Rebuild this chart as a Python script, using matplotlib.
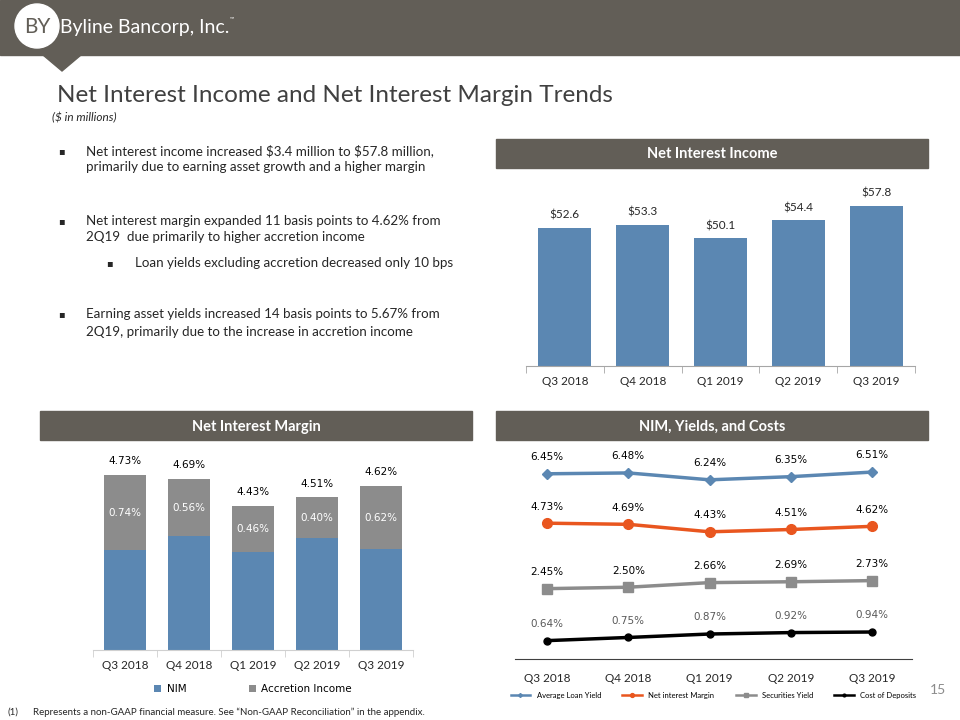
import matplotlib
matplotlib.use('Agg')

import matplotlib.pyplot as plt
import numpy as np
from matplotlib.patches import Rectangle, Circle, Polygon

# Chart data
quarters = ['Q3 2018', 'Q4 2018', 'Q1 2019', 'Q2 2019', 'Q3 2019']
nii = [52.6, 53.3, 50.1, 54.4, 57.8]
nim_total = [4.73, 4.69, 4.43, 4.51, 4.62]
accretion = [0.74, 0.56, 0.46, 0.40, 0.62]
loan_yield = [6.45, 6.48, 6.24, 6.35, 6.51]
sec_yield = [2.45, 2.50, 2.66, 2.69, 2.73]
cost_deposits = [0.64, 0.75, 0.87, 0.92, 0.94]

bullets = [
    ("Net interest income increased \\$3.4 million to \\$57.8 million,\nprimarily due to earning asset growth and a higher margin", 0),
    ("Net interest margin expanded 11 basis points to 4.62% from\n2Q19  due primarily to higher accretion income", 0),
    ("Loan yields excluding accretion decreased only 10 bps", 1),
    ("Earning asset yields increased 14 basis points to 5.67% from\n2Q19, primarily due to the increase in accretion income", 0),
]

BLUE = '#5b87b2'
GRAY = '#8c8c8c'
ORANGE = '#e9561f'
HEAD = '#625e57'
TXT = '#262626'
FONT = ['Lato', 'DejaVu Sans']

W, H = 960, 720
fig = plt.figure(figsize=(9.6, 7.2), dpi=100)


def px_axes(x0, y0, x1, y1):
    # axes placed by pixel box (top-left origin)
    return fig.add_axes([x0 / W, 1 - y1 / H, (x1 - x0) / W, (y1 - y0) / H])


# background / decorations layer
bg = fig.add_axes([0, 0, 1, 1])
bg.set_xlim(0, W)
bg.set_ylim(H, 0)
bg.axis('off')

bg.add_patch(Rectangle((0, 0), W, 55, color=HEAD, zorder=1))
bg.add_patch(Polygon([[43, 55], [81, 55], [62, 71]], closed=True, color=HEAD, zorder=1))
bg.add_patch(Circle((37, 26), 22, color='white', zorder=2))
bg.text(37, 27, 'BY', color=HEAD, fontsize=15, ha='center', va='center',
        family=FONT, zorder=3)
bg.text(60, 27, 'Byline Bancorp, Inc.', color='white', fontsize=14, ha='left',
        va='center', family=FONT, zorder=3)
bg.text(230, 19, '™', color='white', fontsize=4, ha='left', va='center', family=FONT)

bg.text(57, 96, 'Net Interest Income and Net Interest Margin Trends', color='#404040',
        fontsize=17.5, ha='left', va='center', family=FONT)
bg.text(52, 118, '($ in millions)', color=TXT, fontsize=8.5, style='italic',
        ha='left', va='center', family=FONT)

# bullet text
line_y = [[151, 167], [221, 237], [263], [314, 332]]
for (txt, lvl), ys in zip(bullets, line_y):
    bx, tx = (61, 86) if lvl == 0 else (109, 135)
    bg.text(bx, ys[0], '▪', fontsize=7, ha='center', va='center', color=TXT,
            family=['DejaVu Sans'])
    for ln, y in zip(txt.split('\n'), ys):
        bg.text(tx, y, ln, fontsize=9.6, ha='left', va='center', color=TXT, family=FONT)

# section headers
for (x0, y0, x1, y1), label in [((496, 139, 928, 168), 'Net Interest Income'),
                                ((40, 411, 472, 440), 'Net Interest Margin'),
                                ((496, 411, 928, 440), 'NIM, Yields, and Costs')]:
    bg.add_patch(Rectangle((x0, y0), x1 - x0, y1 - y0, color=HEAD, zorder=1))
    bg.text((x0 + x1) / 2, (y0 + y1) / 2 + 1, label, color='white', fontsize=10.5,
            fontweight='bold', ha='center', va='center', family=FONT, zorder=2)

bg.text(938, 690, '15', color=GRAY, fontsize=10, ha='center', va='center', family=FONT)
bg.text(8, 712, '(1)', color=TXT, fontsize=7, ha='left', va='center', family=FONT)
bg.text(33, 712, 'Represents a non-GAAP financial measure. See \u201cNon-GAAP Reconciliation\u201d in the appendix.',
        color=TXT, fontsize=7, ha='left', va='center', family=FONT)

x = np.arange(len(quarters))


def cat_axis(ax, spine_color, ticks=True):
    for s in ['top', 'right', 'left']:
        ax.spines[s].set_visible(False)
    ax.spines['bottom'].set_color(spine_color)
    ax.set_yticks([])
    ax.set_xticks(x)
    ax.set_xticklabels(quarters, fontsize=8.5, color=TXT, family=FONT)
    ax.tick_params(axis='x', which='major', length=0, pad=7)
    if ticks:
        ax.set_xticks(np.arange(-0.5, len(quarters)), minor=True)
        ax.tick_params(axis='x', which='minor', length=5, color=spine_color)
    ax.patch.set_alpha(0)


# Net Interest Income bars
ax1 = px_axes(526, 188, 915, 366)
ax1.bar(x, nii, width=0.68, color=BLUE)
ax1.set_xlim(-0.5, 4.5)
ax1.set_ylim(20, 62)
cat_axis(ax1, '#a6a6a6')
for xi, v in zip(x, nii):
    ax1.annotate(f'${v:.1f}', (xi, v), xytext=(0, 9), textcoords='offset points',
                 ha='center', va='center', fontsize=8.5, color=TXT, family=FONT)

# Net Interest Margin stacked bars
core = [t - a for t, a in zip(nim_total, accretion)]
ax2 = px_axes(93, 453, 413, 650)
ax2.bar(x, core, width=0.67, color=BLUE, label='NIM')
ax2.bar(x, accretion, bottom=core, width=0.67, color=GRAY, label='Accretion Income')
ax2.set_xlim(-0.5, 4.5)
ax2.set_ylim(3.0, 4.95)
cat_axis(ax2, '#d0d0d0')
for xi, t, a, c in zip(x, nim_total, accretion, core):
    ax2.annotate(f'{t:.2f}%', (xi, t), xytext=(0, 10), textcoords='offset points',
                 ha='center', va='center', fontsize=7.5, color='black')
    ax2.text(xi, c + a / 2, f'{a:.2f}%', ha='center', va='center', fontsize=7.5,
             color='white')
ax2.legend(loc='center', bbox_to_anchor=(0.5, -0.2), ncol=2, frameon=False,
           fontsize=7.5, handlelength=0.7, handleheight=0.7, columnspacing=6,
           handletextpad=0.5)

# NIM, Yields, and Costs lines
ax3 = px_axes(515, 458, 912, 659)
series = [
    ('Average Loan Yield', loan_yield, BLUE, 'D', 5, 'black'),
    ('Net interest Margin', nim_total, ORANGE, 'o', 7, 'black'),
    ('Securities Yield', sec_yield, GRAY, 's', 7, 'black'),
    ('Cost of Deposits', cost_deposits, 'black', 'o', 5, '#595959'),
]
for name, vals, col, mk, ms, lc in series:
    ax3.plot(x, vals, color=col, marker=mk, markersize=ms, linewidth=2.5, label=name)
    for xi, v in zip(x, vals):
        ax3.annotate(f'{v:.2f}%', (xi, v), xytext=(0, 12), textcoords='offset points',
                     ha='center', va='center', fontsize=7.5, color=lc)
ax3.set_xlim(-0.394, 4.49)
ax3.set_ylim(0, 7)
cat_axis(ax3, '#404040', ticks=False)
ax3.tick_params(axis='x', pad=10)
leg = ax3.legend(loc='center', bbox_to_anchor=(0.5, -0.18), ncol=4, frameon=False,
                 handlelength=2.6, columnspacing=2.8, handletextpad=0.8,
                 markerscale=0.4, prop={'family': FONT, 'size': 5.5})
for h in leg.legend_handles:
    h.set_linewidth(1.8)

fig.savefig('out.png', dpi=100)
